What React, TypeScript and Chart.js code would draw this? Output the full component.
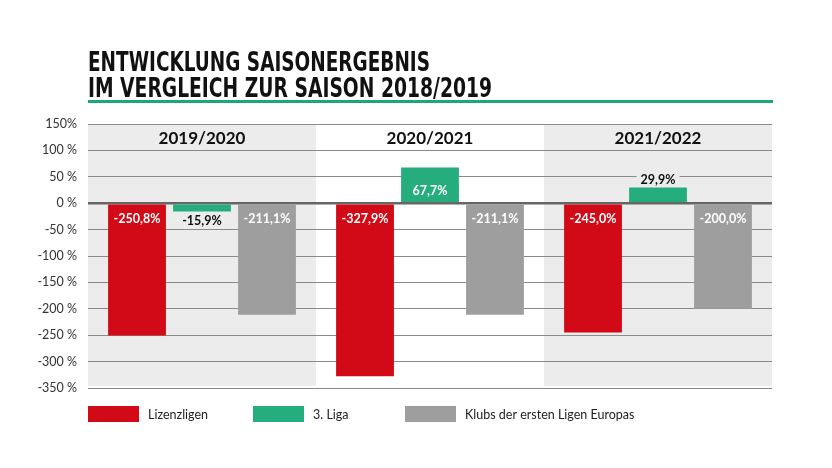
import React, { useEffect, useRef } from 'react';
import { Chart, registerables } from 'chart.js';

Chart.register(...registerables);

// ---- data ----
const seasons = ['2019/2020', '2020/2021', '2021/2022'];
const seriesNames = ['Lizenzligen', '3. Liga', 'Klubs der ersten Ligen Europas'];
const lizenzligen = [-250.8, -327.9, -245.0];
const dritteLiga = [-15.9, 67.7, 29.9];
const europa = [-211.1, -211.1, -200.0];
const tickValues = [150, 100, 50, 0, -50, -100, -150, -200, -250, -300, -350];
const tickLabels = ['150%', '100 %', '50 %', '0 %', '-50 %', '-100 %', '-150 %', '-200 %', '-250 %', '-300 %', '-350 %'];
const titleLines = ['ENTWICKLUNG SAISONERGEBNIS', 'IM VERGLEICH ZUR SAISON 2018/2019'];

// ---- styles ----
const RED = '#d20a17';
const GREEN = '#25ad7d';
const GRAY = '#9e9e9e';
const BAND = '#ececec';
const RULE = '#1fa676';
const FONT = 'Lato';

const fmt = (v: number) => v.toFixed(1).replace('.', ',') + '%';

const bandPlugin = {
  id: 'bands',
  beforeDraw(chart: any) {
    const { ctx, chartArea, scales } = chart;
    const x = scales.x;
    const w = chartArea.width / seasons.length;
    ctx.save();
    seasons.forEach((_s, i) => {
      if (i % 2 === 0) {
        const cx = x.getPixelForValue(i);
        ctx.fillStyle = BAND;
        ctx.fillRect(cx - w / 2, chartArea.top, w, chartArea.bottom - chartArea.top - 2);
      }
    });
    ctx.restore();
  },
};

const headerPlugin = {
  id: 'headers',
  afterDatasetsDraw(chart: any) {
    const { ctx, scales } = chart;
    const x = scales.x;
    const y = scales.y;
    const cy = (y.getPixelForValue(150) + y.getPixelForValue(100)) / 2;
    ctx.save();
    ctx.font = `bold 17px ${FONT}`;
    ctx.fillStyle = '#111';
    ctx.textAlign = 'center';
    ctx.textBaseline = 'middle';
    seasons.forEach((s, i) => {
      ctx.fillText(s, x.getPixelForValue(i), cy + 1);
    });
    ctx.restore();
  },
};

const labelPlugin = {
  id: 'barLabels',
  afterDatasetsDraw(chart: any) {
    const { ctx } = chart;
    ctx.save();
    ctx.font = `bold 12.5px ${FONT}`;
    ctx.textAlign = 'center';
    ctx.textBaseline = 'middle';
    chart.data.datasets.forEach((ds: any, di: number) => {
      const meta = chart.getDatasetMeta(di);
      meta.data.forEach((bar: any, i: number) => {
        const v = ds.data[i] as number;
        const p = bar.getProps(['x', 'y', 'base'], true);
        const h = Math.abs(p.base - p.y);
        const txt = fmt(v);
        let ty: number;
        let color: string;
        let bg: string | null = null;
        if (h > 30) {
          ty = v < 0 ? p.base + 14 : p.base - 11.5;
          color = '#fff';
        } else {
          ty = v < 0 ? p.y + 9 : p.y - 8;
          color = '#111';
          bg = i % 2 === 0 ? BAND : '#fff';
        }
        if (bg) {
          const tw = ctx.measureText(txt).width;
          ctx.fillStyle = bg;
          ctx.fillRect(p.x - tw / 2 - 4, ty - 7, tw + 8, 14);
        }
        ctx.fillStyle = color;
        ctx.fillText(txt, p.x, ty + 0.5);
      });
    });
    ctx.restore();
  },
};

const titleLegendPlugin = {
  id: 'titleLegend',
  afterDraw(chart: any) {
    const { ctx, chartArea } = chart;
    ctx.save();
    // title
    const targets = [342, 404];
    const baselines = [71, 97];
    ctx.font = 'bold 26px "DejaVu Sans"';
    ctx.fillStyle = '#111';
    ctx.textAlign = 'left';
    ctx.textBaseline = 'alphabetic';
    titleLines.forEach((line, i) => {
      const w = ctx.measureText(line).width;
      ctx.save();
      ctx.translate(chartArea.left, baselines[i]);
      ctx.scale(targets[i] / w, 1);
      ctx.fillText(line, 0, 0);
      ctx.restore();
    });
    ctx.fillStyle = RULE;
    ctx.fillRect(chartArea.left, 100, chartArea.right - chartArea.left + 1, 3);

    // legend
    const xs = [88, 253, 405];
    ctx.font = `12.5px ${FONT}`;
    ctx.textBaseline = 'middle';
    chart.data.datasets.forEach((ds: any, i: number) => {
      ctx.fillStyle = ds.backgroundColor;
      ctx.fillRect(xs[i], 406, 51, 16);
      ctx.fillStyle = '#222';
      ctx.fillText(ds.label, xs[i] + 60, 414.5);
    });
    ctx.restore();
  },
};

export default function App() {
  const ref = useRef<HTMLCanvasElement | null>(null);
  useEffect(() => {
    if (!ref.current) return;
    const chart = new Chart(ref.current, {
      type: 'bar',
      data: {
        labels: seasons,
        datasets: [
          { label: seriesNames[0], data: lizenzligen, backgroundColor: RED },
          { label: seriesNames[1], data: dritteLiga, backgroundColor: GREEN },
          { label: seriesNames[2], data: europa, backgroundColor: GRAY },
        ],
      },
      options: {
        animation: false,
        responsive: false,
        devicePixelRatio: 1,
        layout: { padding: { top: 124, bottom: 80, left: 0, right: 60 } },
        datasets: { bar: { categoryPercentage: 0.855, barPercentage: 0.89 } },
        plugins: { legend: { display: false }, tooltip: { enabled: false }, title: { display: false } },
        scales: {
          x: { display: false },
          y: {
            min: -350,
            max: 150,
            afterFit: (scale: any) => {
              scale.width = 88;
            },
            afterBuildTicks: (scale: any) => {
              scale.ticks = tickValues.map((v) => ({ value: v }));
            },
            border: { display: false },
            grid: {
              drawTicks: false,
              color: (c: any) => (c.tick && c.tick.value === 0 ? '#666' : '#8a8a8a'),
              lineWidth: (c: any) => (c.tick && c.tick.value === 0 ? 2.5 : 1),
            },
            ticks: {
              padding: 11,
              color: '#333',
              font: { family: FONT, size: 12.5 },
              callback: (v: any) => {
                const idx = tickValues.indexOf(Number(v));
                return idx >= 0 ? tickLabels[idx] : '';
              },
            },
          },
        },
      },
      plugins: [bandPlugin, headerPlugin, labelPlugin, titleLegendPlugin],
    } as any);
    return () => chart.destroy();
  }, []);
  return (
    <div style={{ position: 'absolute', left: 0, top: 0, width: 832, height: 468, background: '#fff' }}>
      <canvas ref={ref} width={832} height={468} />
    </div>
  );
}
